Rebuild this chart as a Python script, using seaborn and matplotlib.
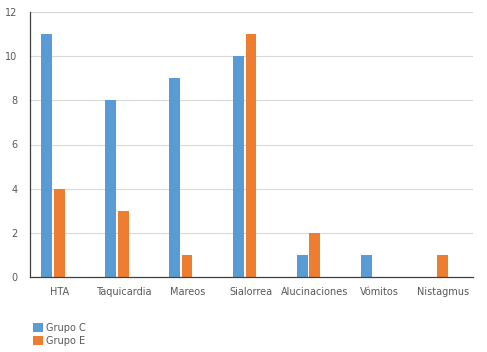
import matplotlib
matplotlib.use("Agg")
import matplotlib.pyplot as plt
import seaborn as sns
import pandas as pd

categories = ["HTA", "Taquicardia", "Mareos", "Sialorrea", "Alucinaciones", "Vómitos", "Nistagmus"]
grupo_c = [11, 8, 9, 10, 1, 1, 0]
grupo_e = [4, 3, 1, 11, 2, 0, 1]
series_names = ["Grupo C", "Grupo E"]
colors = ["#5B9BD5", "#ED7D31"]

df = pd.DataFrame({
    "cat": categories * 2,
    "val": grupo_c + grupo_e,
    "grupo": [series_names[0]] * len(categories) + [series_names[1]] * len(categories),
})

sns.set_theme(style="white")
plt.rcParams['font.family'] = ['DejaVu Sans']

fig = plt.figure(figsize=(4.87, 3.52), dpi=100)
ax = fig.add_axes([30 / 487, 1 - 277 / 352, 443 / 487, 265 / 352])

sns.barplot(data=df, x="cat", y="val", hue="grupo", palette=colors, ax=ax,
            width=0.385, gap=0.12, order=categories, hue_order=series_names,
            saturation=1, edgecolor="none", linewidth=0)

ax.set_ylim(0, 12)
ax.set_yticks(range(0, 13, 2))
ax.yaxis.grid(True, color="#D9D9D9", linewidth=0.8)
ax.set_axisbelow(True)
ax.set_xlabel("")
ax.set_ylabel("")
for s in ["top", "right"]:
    ax.spines[s].set_visible(False)
ax.spines["left"].set_color("#404040")
ax.spines["bottom"].set_color("#404040")
ax.spines["left"].set_linewidth(0.9)
ax.spines["bottom"].set_linewidth(0.9)
ax.set_xlim(-0.36, 6.57)
ax.set_xticks([i + 0.1 for i in range(len(categories))])
ax.set_xticklabels(categories)
ax.tick_params(axis="both", labelsize=7, colors="#595959", length=0)
ax.tick_params(axis="y", pad=9)
ax.tick_params(axis="x", pad=7)

leg = ax.legend(loc="upper left", bbox_to_anchor=(0.007, -0.174), frameon=False,
                fontsize=7, handlelength=1.0, handleheight=1.0, handletextpad=0.3,
                labelspacing=0.3, borderaxespad=0, borderpad=0)
for t in leg.get_texts():
    t.set_color("#595959")

fig.savefig("out.png", dpi=100)
